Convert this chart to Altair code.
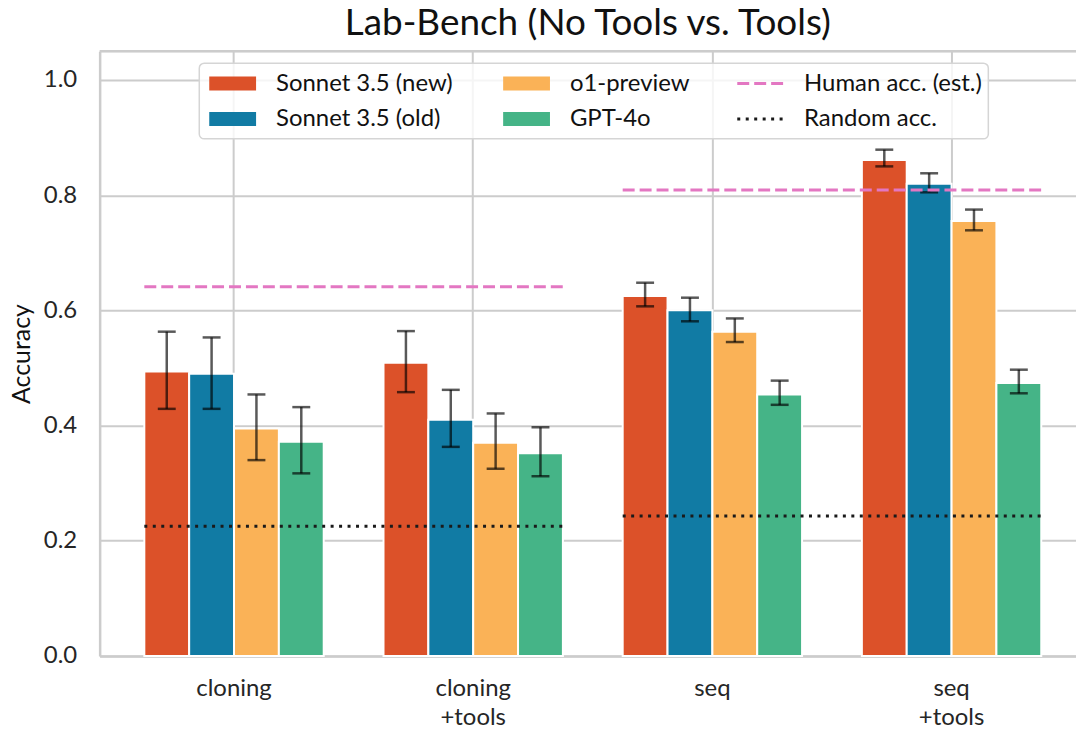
import altair as alt
import pandas as pd

# ---------------- data ----------------
categories = ["cloning", "cloning\n+tools", "seq", "seq\n+tools"]
models = ["Sonnet 3.5 (new)", "Sonnet 3.5 (old)", "o1-preview", "GPT-4o"]
model_colors = ["#DC5129", "#117BA4", "#FAB257", "#45B487"]

acc_new = [0.494, 0.509, 0.625, 0.861]
acc_old = [0.490, 0.410, 0.600, 0.820]
acc_o1 = [0.395, 0.370, 0.563, 0.755]
acc_gpt = [0.372, 0.352, 0.454, 0.474]

lo_new = [0.429, 0.458, 0.607, 0.850]
hi_new = [0.563, 0.564, 0.648, 0.879]
lo_old = [0.429, 0.363, 0.581, 0.805]
hi_old = [0.553, 0.462, 0.622, 0.838]
lo_o1 = [0.340, 0.325, 0.545, 0.739]
hi_o1 = [0.454, 0.421, 0.586, 0.775]
lo_gpt = [0.317, 0.312, 0.436, 0.456]
hi_gpt = [0.432, 0.397, 0.478, 0.497]

ref_start = ["cloning", "seq"]
ref_end = ["cloning\n+tools", "seq\n+tools"]
ref_kinds = ["Human acc. (est.)", "Random acc."]
human_acc = [0.641, 0.809]
random_acc = [0.225, 0.243]

y_ticks = [0.0, 0.2, 0.4, 0.6, 0.8, 1.0]

# ---------------- tables ----------------
series = {
    models[0]: (acc_new, lo_new, hi_new),
    models[1]: (acc_old, lo_old, hi_old),
    models[2]: (acc_o1, lo_o1, hi_o1),
    models[3]: (acc_gpt, lo_gpt, hi_gpt),
}
rows = []
for m in models:
    a, lo, hi = series[m]
    for i, c in enumerate(categories):
        rows.append({"cat": c, "model": m, "acc": a[i], "lo": lo[i], "hi": hi[i]})
bars_df = pd.DataFrame(rows)

ref_rows = []
for g in range(len(ref_start)):
    ref_rows.append({"start": ref_start[g], "end": ref_end[g], "kind": ref_kinds[0], "value": human_acc[g]})
    ref_rows.append({"start": ref_start[g], "end": ref_end[g], "kind": ref_kinds[1], "value": random_acc[g]})
ref_df = pd.DataFrame(ref_rows)

# ---------------- styling ----------------
W, H = 980, 607
FONT = "Lato"
TXT = "#262626"
GRID = "#cccccc"

x_scale = alt.Scale(domain=categories, paddingInner=0.25, paddingOuter=0.166, align=0.5625)
x_axis = alt.Axis(
    title=None, labelExpr="split(datum.label, '\\n')", labelFont=FONT, labelFontSize=24,
    labelColor=TXT, labelPadding=21, labelLineHeight=29, labelAngle=0, ticks=False, tickSize=0,
    grid=True, gridColor=GRID, gridWidth=2, domainColor=GRID, domainWidth=2.5, bandPosition=0.5,
)
y_scale = alt.Scale(domain=[0, 1.05], nice=False, zero=True)
y_axis = alt.Axis(
    title="Accuracy", values=y_ticks, format=".1f", labelFont=FONT, labelFontSize=24,
    labelColor=TXT, labelPadding=23, ticks=False, tickSize=0, grid=True, gridColor=GRID,
    gridWidth=2, domainColor=GRID, domainWidth=2.5, titleFont=FONT, titleFontSize=25,
    titleFontWeight="normal", titleColor="#111111", titlePadding=9,
)
xoff = alt.XOffset("model:N", scale=alt.Scale(domain=models, paddingInner=0, paddingOuter=0))

color_legend = alt.Legend(
    title=None, orient="none", legendX=108, legendY=20.5, columns=2,
    symbolType="M-1,-0.7L3.7,-0.7L3.7,0.7L-1,0.7Z", symbolSize=400, symbolStrokeWidth=0,
    symbolOpacity=1, labelFont=FONT, labelFontSize=24, labelColor="#111111", labelOffset=45,
    labelLimit=400, columnPadding=48, rowPadding=11.5, padding=0,
)
line_legend = alt.Legend(
    title=None, orient="none", legendX=638, legendY=20.5,
    symbolType="M-1,0L3.7,0", symbolSize=400, symbolStrokeWidth=3, symbolFillColor="transparent",
    labelFont=FONT, labelFontSize=24, labelColor="#111111", labelOffset=45, labelLimit=400,
    rowPadding=11.5, padding=0,
)

# ---------------- layers ----------------
top_border = alt.Chart(alt.Data(values=[{}])).mark_rule(color=GRID, strokeWidth=2.5).encode(
    x=alt.value(0), x2=alt.value(W), y=alt.value(0)
)

bars = alt.Chart(bars_df).mark_bar(stroke="white", strokeWidth=2).encode(
    x=alt.X("cat:N", scale=x_scale, axis=x_axis),
    xOffset=xoff,
    y=alt.Y("acc:Q", scale=y_scale, axis=y_axis),
    color=alt.Color("model:N", scale=alt.Scale(domain=models, range=model_colors),
                    legend=color_legend),
)

err_rule = alt.Chart(bars_df).mark_rule(color="black", opacity=0.65, strokeWidth=2.5).encode(
    x=alt.X("cat:N", scale=x_scale, axis=x_axis),
    xOffset=xoff,
    y=alt.Y("lo:Q", scale=y_scale, axis=y_axis),
    y2="hi:Q",
)
cap_lo = alt.Chart(bars_df).mark_tick(color="black", opacity=0.65, thickness=2.5, size=18).encode(
    x=alt.X("cat:N", scale=x_scale, axis=x_axis),
    xOffset=xoff,
    y=alt.Y("lo:Q", scale=y_scale, axis=y_axis),
)
cap_hi = alt.Chart(bars_df).mark_tick(color="black", opacity=0.65, thickness=2.5, size=18).encode(
    x=alt.X("cat:N", scale=x_scale, axis=x_axis),
    xOffset=xoff,
    y=alt.Y("hi:Q", scale=y_scale, axis=y_axis),
)

ref_lines = alt.Chart(ref_df).mark_rule(strokeWidth=3).encode(
    x=alt.X("start:N", scale=x_scale, axis=x_axis, bandPosition=0),
    x2=alt.X2("end:N", bandPosition=1),
    y=alt.Y("value:Q", scale=y_scale, axis=y_axis),
    stroke=alt.Stroke("kind:N", scale=alt.Scale(domain=ref_kinds, range=["#E377C2", "#1a1a1a"]),
                      legend=line_legend),
    strokeDash=alt.StrokeDash("kind:N", scale=alt.Scale(domain=ref_kinds, range=[[12, 5], [3, 5.5]]),
                              legend=line_legend),
)

legend_bg = alt.Chart(alt.Data(values=[{}])).mark_rect(
    fill="white", fillOpacity=0.8, stroke="#d5d5d5", strokeWidth=1.5, cornerRadius=5
).encode(x=alt.value(100), x2=alt.value(892), y=alt.value(12), y2=alt.value(88))

chart = alt.layer(top_border, bars, err_rule, cap_lo, cap_hi, ref_lines, legend_bg).properties(
    width=W, height=H,
    autosize=alt.AutoSizeParams(type="none"),
    padding={"left": 92, "top": 42, "right": 0, "bottom": 74},
    title=alt.TitleParams(
        "Lab-Bench (No Tools vs. Tools)", font=FONT, fontSize=37, fontWeight="normal",
        color="#111111", anchor="middle", frame="group", offset=7,
    ),
).configure_view(stroke=None).configure(font=FONT)

chart.save("out.html", embed_options={"renderer": "svg", "actions": False})
